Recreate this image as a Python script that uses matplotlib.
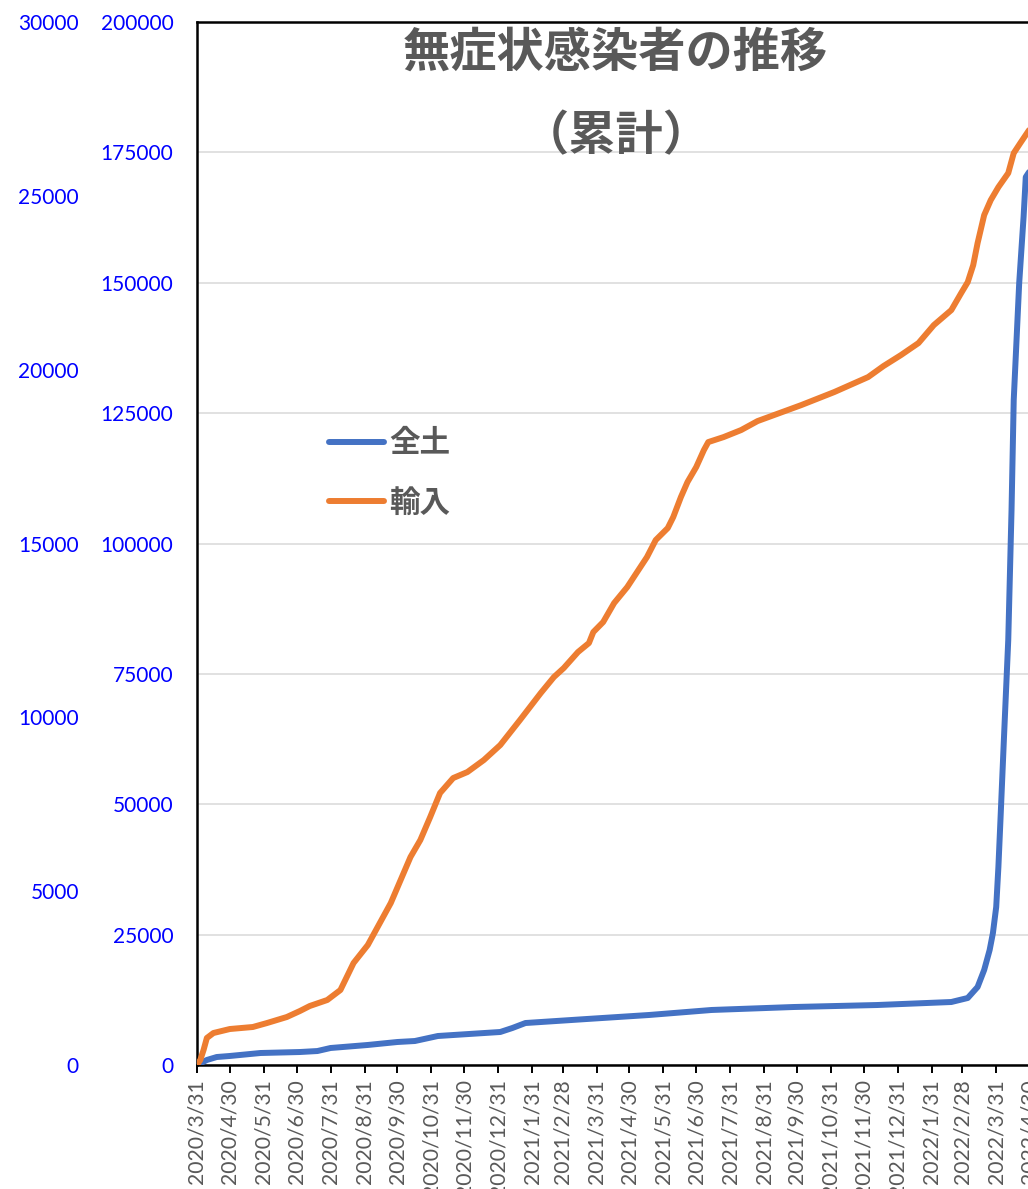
import matplotlib
matplotlib.use("Agg")
import matplotlib.pyplot as plt
from matplotlib.lines import Line2D
import pandas as pd

plt.rcParams['font.family'] = ['Lato', 'Noto Sans CJK JP', 'DejaVu Sans']

# ---- data ----
zendo_dates = ["2020-03-31", "2020-04-09", "2020-04-18", "2020-04-30", "2020-05-28",
               "2020-07-03", "2020-07-19", "2020-07-31", "2020-09-03", "2020-09-30",
               "2020-10-16", "2020-11-06", "2021-01-02", "2021-01-13", "2021-01-25",
               "2021-03-22", "2021-05-18", "2021-07-14", "2021-09-27", "2021-12-12",
               "2022-02-18", "2022-03-05", "2022-03-14", "2022-03-20", "2022-03-25",
               "2022-03-28", "2022-03-31", "2022-04-02", "2022-04-04", "2022-04-07",
               "2022-04-11", "2022-04-14", "2022-04-16", "2022-04-21", "2022-04-25",
               "2022-04-27", "2022-04-30"]
zendo_values = [0, 960, 1530, 1730, 2300,
                2490, 2680, 3260, 3840, 4410,
                4600, 5560, 6330, 7090, 8050,
                8820, 9590, 10550, 11120, 11500,
                12080, 12850, 14960, 18220, 22050,
                25310, 30300, 37970, 47550, 62320,
                81490, 106420, 127510, 149950, 162600,
                170270, 171230]

yunyu_dates = ["2020-03-31", "2020-04-03", "2020-04-06", "2020-04-09", "2020-04-15",
               "2020-04-30", "2020-05-21", "2020-06-03", "2020-06-21", "2020-07-03",
               "2020-07-12", "2020-07-28", "2020-08-09", "2020-08-21", "2020-09-03",
               "2020-09-12", "2020-09-24", "2020-10-03", "2020-10-12", "2020-10-21",
               "2020-10-30", "2020-11-08", "2020-11-20", "2020-12-03", "2020-12-18",
               "2021-01-02", "2021-01-20", "2021-02-08", "2021-02-20", "2021-03-01",
               "2021-03-14", "2021-03-24", "2021-03-28", "2021-04-06", "2021-04-16",
               "2021-04-28", "2021-05-07", "2021-05-16", "2021-05-24", "2021-06-04",
               "2021-06-09", "2021-06-16", "2021-06-22", "2021-06-30", "2021-07-07",
               "2021-07-11", "2021-07-25", "2021-08-10", "2021-08-25", "2021-10-04",
               "2021-11-03", "2021-12-04", "2021-12-18", "2022-01-03", "2022-01-19",
               "2022-02-02", "2022-02-18", "2022-02-27", "2022-03-05", "2022-03-10",
               "2022-03-14", "2022-03-20", "2022-03-26", "2022-04-02", "2022-04-11",
               "2022-04-16", "2022-04-22", "2022-04-30"]
yunyu_values = [0, 144, 432, 777, 920,
                1035, 1093, 1208, 1380, 1553,
                1697, 1870, 2157, 2934, 3451,
                3969, 4659, 5321, 5982, 6471,
                7132, 7823, 8254, 8427, 8772,
                9203, 9922, 10699, 11159, 11418,
                11878, 12137, 12453, 12741, 13287,
                13747, 14179, 14610, 15099, 15444,
                15760, 16336, 16767, 17199, 17688,
                17917, 18061, 18263, 18521, 18982,
                19355, 19787, 20103, 20420, 20765,
                21282, 21714, 22203, 22519, 23008,
                23641, 24446, 24877, 25251, 25654,
                26229, 26517, 26891]

series_labels = ["全土", "輸入"]
title_line1 = "無症状感染者の推移"
title_line2 = "（累計）"
inner_ticks = [0, 25000, 50000, 75000, 100000, 125000, 150000, 175000, 200000]
outer_ticks = [0, 5000, 10000, 15000, 20000, 25000, 30000]
tick_dates = pd.date_range("2020-03-31", "2022-04-30", freq="ME")

# ---- styling ----
BLUE = "#4472C4"
ORANGE = "#ED7D31"
GRAY = "#595959"
LABEL_BLUE = "#0000FF"

W, H = 1028, 1189
fig = plt.figure(figsize=(W / 100, H / 100), dpi=100)
left, right, top, bottom = 197, 1040, 22, 1065
ax = fig.add_axes([left / W, 1 - bottom / H, (right - left) / W, (bottom - top) / H])

zd = pd.to_datetime(zendo_dates)
yd = pd.to_datetime(yunyu_dates)

ax.plot(zd, zendo_values, color=BLUE, lw=4.3, solid_capstyle='round',
        solid_joinstyle='round', zorder=3)
ax.set_ylim(0, 200000)
ax.set_yticks(inner_ticks)
ax.set_yticklabels([str(v) for v in inner_ticks])
ax.grid(axis='y', color='#d9d9d9', lw=1.1, zorder=0)
ax.set_axisbelow(True)
ax.tick_params(axis='y', length=0, pad=17, labelsize=15, labelcolor=LABEL_BLUE)

ax.set_xlim(pd.Timestamp("2020-03-31"), pd.Timestamp("2022-05-10"))
ax.set_xticks(tick_dates)
ax.set_xticklabels([f"{d.year}/{d.month}/{d.day}" for d in tick_dates],
                   rotation=90, va='top', ha='center')
ax.tick_params(axis='x', length=6, width=1.4, direction='out', pad=4,
               labelsize=15.2, labelcolor=GRAY, color='black')

for s in ['left', 'bottom', 'top']:
    ax.spines[s].set_color('black')
    ax.spines[s].set_linewidth(1.8)
ax.spines['right'].set_visible(False)

ax2 = ax.twinx()
ax2.plot(yd, yunyu_values, color=ORANGE, lw=4.3, solid_capstyle='round',
         solid_joinstyle='round', zorder=3)
ax2.set_ylim(0, 30000)
ax2.yaxis.set_ticks_position('left')
ax2.set_yticks(outer_ticks)
ax2.set_yticklabels([str(v) for v in outer_ticks])
ax2.tick_params(axis='y', length=0, pad=85, labelsize=15, labelcolor=LABEL_BLUE)
for s in ax2.spines.values():
    s.set_visible(False)
ax2.set_xlim(ax.get_xlim())

handles = [Line2D([], [], color=BLUE, lw=4.3, solid_capstyle='round'),
           Line2D([], [], color=ORANGE, lw=4.3, solid_capstyle='round')]
leg = ax2.legend(handles, series_labels, loc='upper left',
                 bbox_to_anchor=(314 / W, 1 - 412 / H), bbox_transform=fig.transFigure,
                 frameon=False, borderpad=0, handlelength=1.8, handletextpad=0.17,
                 labelspacing=0.9, prop={'family': 'Noto Sans CJK JP', 'size': 22,
                                         'weight': 'bold'})
for t in leg.get_texts():
    t.set_color(GRAY)

fig.text(615 / W, 1 - 53 / H, title_line1, ha='center', va='center',
         fontsize=34, fontweight='bold', color=GRAY, family='Noto Sans CJK JP')
fig.text(616 / W, 1 - 136 / H, title_line2, ha='center', va='center',
         fontsize=34, fontweight='bold', color=GRAY, family='Noto Sans CJK JP')

fig.savefig("out.png", dpi=100)
